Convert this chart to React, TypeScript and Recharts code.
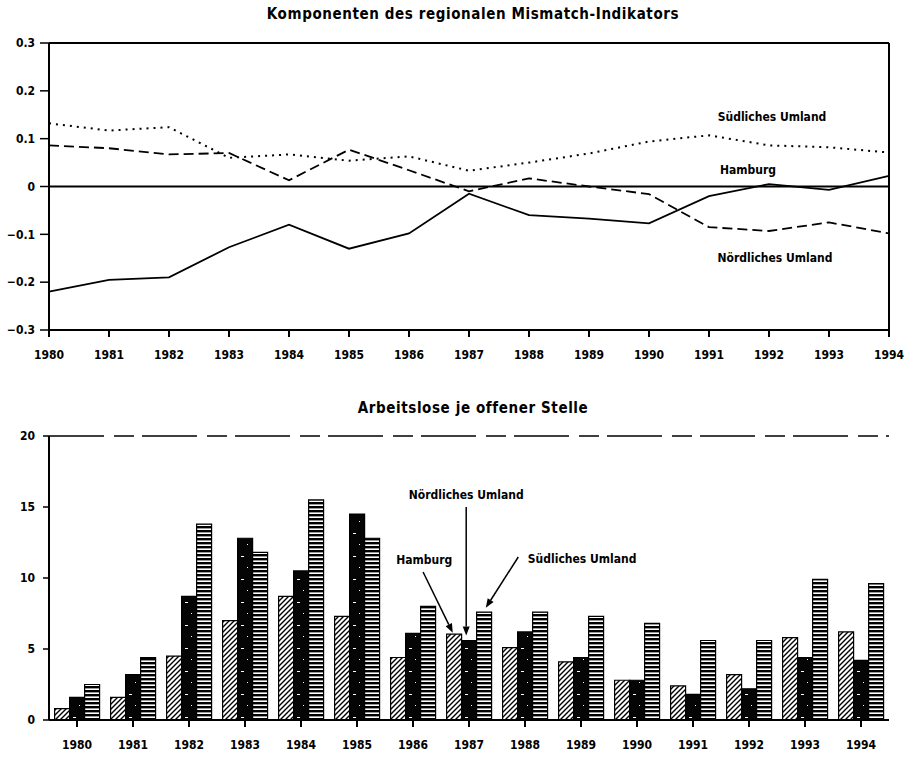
import React from "react";
import {
  LineChart,
  Line,
  BarChart,
  Bar,
  XAxis,
  YAxis,
  ReferenceLine,
  ReferenceDot
} from "recharts";

// years on both panels
const years = [1980, 1981, 1982, 1983, 1984, 1985, 1986, 1987, 1988, 1989, 1990, 1991, 1992, 1993, 1994];

// top panel: components of the regional mismatch indicator
const hamburgMismatch = [-0.22, -0.195, -0.19, -0.127, -0.08, -0.13, -0.098, -0.015, -0.06, -0.067, -0.077, -0.02, 0.005, -0.007, 0.022];
const noerdMismatch = [0.086, 0.08, 0.067, 0.07, 0.013, 0.077, 0.034, -0.01, 0.017, 0.0, -0.016, -0.085, -0.093, -0.075, -0.098];
const suedMismatch = [0.132, 0.117, 0.124, 0.06, 0.067, 0.054, 0.063, 0.033, 0.05, 0.069, 0.094, 0.107, 0.086, 0.082, 0.071];
const mismatchTicks = [-0.3, -0.2, -0.1, 0, 0.1, 0.2, 0.3];

// bottom panel: unemployed per vacancy
const hamburgBars = [0.8, 1.6, 4.5, 7.0, 8.7, 7.3, 4.4, 6.05, 5.1, 4.1, 2.8, 2.4, 3.2, 5.8, 6.2];
const noerdBars = [1.6, 3.2, 8.7, 12.8, 10.5, 14.5, 6.1, 5.6, 6.2, 4.4, 2.8, 1.8, 2.2, 4.4, 4.2];
const suedBars = [2.5, 4.4, 13.8, 11.8, 15.5, 12.8, 8.0, 7.6, 7.6, 7.3, 6.8, 5.6, 5.6, 9.9, 9.6];
const barTicks = [0, 5, 10, 15, 20];

const font = '"DejaVu Sans Condensed", "DejaVu Sans", sans-serif';

const lineData = years.map((y, i) => ({
  year: y,
  hamburg: hamburgMismatch[i],
  noerd: noerdMismatch[i],
  sued: suedMismatch[i]
}));

const barData = years.map((y, i) => ({
  year: String(y),
  yearNum: y,
  hamburg: hamburgBars[i],
  noerd: noerdBars[i],
  sued: suedBars[i]
}));

const tickStyle = { fill: "#000", fontSize: 12, fontWeight: 700, fontFamily: font };

const labelStyle = (value: string) => ({
  value,
  position: "center" as const,
  fill: "#000",
  fontSize: 12,
  fontWeight: 700,
  fontFamily: font
});

const fmt = (v: number) => (v === 0 ? "0" : v < 0 ? "\u2212" + Math.abs(v).toFixed(1) : v.toFixed(1));

const Arrow = (props: any) => {
  const { x1, y1, x2, y2 } = props;
  const a = Math.atan2(y2 - y1, x2 - x1);
  const len = 9;
  const w = 3.5;
  const bx = x2 - len * Math.cos(a);
  const by = y2 - len * Math.sin(a);
  const p1 = `${bx + w * Math.sin(a)},${by - w * Math.cos(a)}`;
  const p2 = `${bx - w * Math.sin(a)},${by + w * Math.cos(a)}`;
  return (
    <g>
      <line x1={x1} y1={y1} x2={bx} y2={by} stroke="#000" strokeWidth={1.5} />
      <polygon points={`${x2},${y2} ${p1} ${p2}`} fill="#000" />
    </g>
  );
};

const titleStyle: React.CSSProperties = {
  position: "absolute",
  left: 0,
  width: 946,
  textAlign: "center",
  fontFamily: font,
  fontWeight: 700,
  fontSize: 15,
  letterSpacing: 0.6,
  color: "#000"
};

const App = () => {
  return (
    <div style={{ position: "absolute", left: 0, top: 0, width: 916, height: 758, background: "#fff", overflow: "hidden" }}>
      <div style={{ ...titleStyle, top: 5 }}>Komponenten des regionalen Mismatch-Indikators</div>
      <div style={{ position: "absolute", left: 0, top: 0 }}>
        <LineChart width={916} height={380} data={lineData} margin={{ top: 43, right: 27, left: 9, bottom: 10 }}>
          <XAxis
            dataKey="year"
            type="number"
            domain={[1980, 1994]}
            ticks={years}
            height={40}
            tick={tickStyle}
            tickSize={7}
            tickMargin={13}
            tickLine={{ stroke: "#000", strokeWidth: 2 }}
            axisLine={{ stroke: "#000", strokeWidth: 2 }}
          />
          <YAxis
            domain={[-0.3, 0.3]}
            ticks={mismatchTicks}
            width={40}
            tickFormatter={fmt}
            tick={tickStyle}
            tickSize={9}
            tickMargin={5}
            tickLine={{ stroke: "#000", strokeWidth: 1.5 }}
            axisLine={{ stroke: "#000", strokeWidth: 2 }}
          />
          <ReferenceLine y={0.3} stroke="#000" strokeWidth={2} />
          <ReferenceLine x={1994} stroke="#000" strokeWidth={2} />
          <ReferenceLine y={0} stroke="#000" strokeWidth={1.8} />
          <Line dataKey="sued" stroke="#000" strokeWidth={2} strokeDasharray="2 5" dot={false} isAnimationActive={false} />
          <Line dataKey="noerd" stroke="#000" strokeWidth={1.8} strokeDasharray="10 5" dot={false} isAnimationActive={false} />
          <Line dataKey="hamburg" stroke="#000" strokeWidth={1.8} dot={false} isAnimationActive={false} />
          <ReferenceDot x={1992.05} y={0.146} r={0} ifOverflow="visible" label={labelStyle("Südliches Umland")} />
          <ReferenceDot x={1991.65} y={0.036} r={0} ifOverflow="visible" label={labelStyle("Hamburg")} />
          <ReferenceDot x={1992.1} y={-0.148} r={0} ifOverflow="visible" label={labelStyle("Nördliches Umland")} />
        </LineChart>
      </div>

      <div style={{ ...titleStyle, top: 399 }}>Arbeitslose je offener Stelle</div>
      <div style={{ position: "absolute", left: 0, top: 390 }}>
        <BarChart
          width={916}
          height={368}
          data={barData}
          margin={{ top: 46, right: 27, left: 9, bottom: 8 }}
          barCategoryGap="10%"
          barGap={0}
        >
          <defs>
            <pattern id="hatch" patternUnits="userSpaceOnUse" width={5} height={5}>
              <rect width={5} height={5} fill="#fff" />
              <path d="M-1,1 l2,-2 M0,5 l5,-5 M4,6 l2,-2" stroke="#000" strokeWidth={1.4} />
            </pattern>
            <pattern id="dark" patternUnits="userSpaceOnUse" width={14} height={23}>
              <rect width={14} height={23} fill="#050505" />
              <rect x={3} y={5} width={3} height={1} fill="#fff" />
              <rect x={9} y={16} width={1} height={1} fill="#fff" />
            </pattern>
            <pattern id="stripes" patternUnits="userSpaceOnUse" width={6} height={4}>
              <rect width={6} height={4} fill="#fff" />
              <rect width={6} height={2.4} fill="#000" />
            </pattern>
          </defs>
          <XAxis
            dataKey="year"
            height={30}
            tick={tickStyle}
            tickSize={7}
            tickMargin={13}
            tickLine={{ stroke: "#000", strokeWidth: 2 }}
            axisLine={{ stroke: "#000", strokeWidth: 2 }}
          />
          <XAxis xAxisId="n" dataKey="yearNum" type="number" domain={[1979.5, 1994.5]} allowDataOverflow hide />
          <YAxis
            domain={[0, 20]}
            ticks={barTicks}
            width={40}
            tick={tickStyle}
            tickSize={6}
            tickMargin={8}
            tickLine={{ stroke: "#000", strokeWidth: 1.5 }}
            axisLine={{ stroke: "#000", strokeWidth: 2 }}
          />
          <ReferenceLine y={20} stroke="#000" strokeWidth={1.5} strokeDasharray="55 10 20 8" />
          <Bar dataKey="hamburg" fill="url(#hatch)" stroke="#000" strokeWidth={1.2} isAnimationActive={false} />
          <Bar dataKey="noerd" fill="url(#dark)" stroke="#000" strokeWidth={1.2} isAnimationActive={false} />
          <Bar dataKey="sued" fill="url(#stripes)" stroke="#000" strokeWidth={1.2} isAnimationActive={false} />
          <ReferenceDot xAxisId="n" x={1986.95} y={15.85} r={0} ifOverflow="visible" label={labelStyle("Nördliches Umland")} />
          <ReferenceDot xAxisId="n" x={1986.2} y={11.27} r={0} ifOverflow="visible" label={labelStyle("Hamburg")} />
          <ReferenceDot xAxisId="n" x={1989.02} y={11.34} r={0} ifOverflow="visible" label={labelStyle("Südliches Umland")} />
          <ReferenceLine xAxisId="n" segment={[{ x: 1986.95, y: 15.0 }, { x: 1986.95, y: 5.95 }]} shape={Arrow} ifOverflow="visible" />
          <ReferenceLine xAxisId="n" segment={[{ x: 1986.18, y: 10.42 }, { x: 1986.71, y: 6.15 }]} shape={Arrow} ifOverflow="visible" />
          <ReferenceLine xAxisId="n" segment={[{ x: 1987.88, y: 11.48 }, { x: 1987.3, y: 7.9 }]} shape={Arrow} ifOverflow="visible" />
        </BarChart>
      </div>
    </div>
  );
};

export default App;
